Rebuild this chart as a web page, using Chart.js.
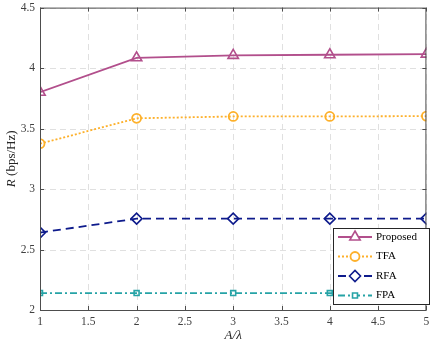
<!DOCTYPE html>
<html><head><meta charset="utf-8">
<script src="https://cdn.jsdelivr.net/npm/chart.js@4"></script>
<style>html,body{margin:0;padding:0;background:#fff}#wrap{width:434px;height:346px}</style>
</head><body><div id="wrap"><canvas id="c" width="434" height="346"></canvas></div>
<script>
const xValues = [1, 2, 3, 4, 5];
const proposed = [3.80, 4.085, 4.105, 4.11, 4.115];
const tfa = [3.375, 3.585, 3.60, 3.60, 3.603];
const rfa = [2.64, 2.755, 2.755, 2.755, 2.755];
const fpa = [2.14, 2.14, 2.14, 2.14, 2.14];
const seriesNames = ['Proposed', 'TFA', 'RFA', 'FPA'];
const xTitle = 'A/λ';

const serif = '"Liberation Serif", "Times New Roman", serif';
const pts = arr => arr.map((v, i) => ({x: xValues[i], y: v}));

const datasets = [
  {label: seriesNames[0], data: pts(proposed), borderColor: '#b24f8c', backgroundColor: 'rgba(0,0,0,0)', pointBorderColor: '#b24f8c', pointStyle: 'triangle', pointRadius: 6, borderWidth: 1.8, pointBorderWidth: 1.6, borderDash: []},
  {label: seriesNames[1], data: pts(tfa), borderColor: '#fdb02a', backgroundColor: 'rgba(0,0,0,0)', pointBorderColor: '#fdb02a', pointStyle: 'circle', pointRadius: 4.5, borderWidth: 1.8, pointBorderWidth: 1.8, borderDash: [2, 2]},
  {label: seriesNames[2], data: pts(rfa), borderColor: '#0e1b8c', backgroundColor: 'rgba(0,0,0,0)', pointBorderColor: '#0e1b8c', pointStyle: 'rectRot', pointRadius: 5.5, borderWidth: 1.8, pointBorderWidth: 1.6, borderDash: [8, 5]},
  {label: seriesNames[3], data: pts(fpa), borderColor: '#26a3a6', backgroundColor: 'rgba(0,0,0,0)', pointBorderColor: '#26a3a6', pointStyle: 'rect', pointRadius: 3.5, borderWidth: 1.8, pointBorderWidth: 1.6, borderDash: [7, 3, 2, 3]}
];

const gridPlugin = {
  id: 'dashgrid',
  beforeDatasetsDraw(chart) {
    const ctx = chart.ctx, a = chart.chartArea;
    const xs = chart.scales.x, ys = chart.scales.y;
    ctx.save();
    ctx.strokeStyle = '#e0e0e0'; ctx.lineWidth = 1; ctx.setLineDash([6, 4]);
    ctx.beginPath();
    xs.ticks.forEach(t => {
      const px = Math.round(xs.getPixelForValue(t.value)) + 0.5;
      ctx.moveTo(px, a.bottom); ctx.lineTo(px, a.top);
    });
    ys.ticks.forEach(t => {
      const py = Math.round(ys.getPixelForValue(t.value)) + 0.5;
      ctx.moveTo(a.left, py); ctx.lineTo(a.right, py);
    });
    ctx.stroke();
    ctx.restore();
  }
};

const decor = {
  id: 'decor',
  afterDraw(chart) {
    const ctx = chart.ctx, a = chart.chartArea;
    const xs = chart.scales.x, ys = chart.scales.y;
    ctx.save();
    ctx.strokeStyle = '#4d4d4d'; ctx.lineWidth = 1; ctx.setLineDash([]);
    ctx.strokeRect(a.left + 0.5, a.top + 0.5, a.right - a.left - 1, a.bottom - a.top);
    const tl = 4;
    ctx.beginPath();
    xs.ticks.forEach(t => {
      const px = Math.round(xs.getPixelForValue(t.value)) + 0.5;
      ctx.moveTo(px, a.bottom); ctx.lineTo(px, a.bottom - tl);
      ctx.moveTo(px, a.top); ctx.lineTo(px, a.top + tl);
    });
    ys.ticks.forEach(t => {
      const py = Math.round(ys.getPixelForValue(t.value)) + 0.5;
      ctx.moveTo(a.left, py); ctx.lineTo(a.left + tl, py);
      ctx.moveTo(a.right, py); ctx.lineTo(a.right - tl, py);
    });
    ctx.stroke();
    ctx.fillStyle = '#262626';
    ctx.font = 'italic 13px ' + serif;
    ctx.textAlign = 'center'; ctx.textBaseline = 'alphabetic';
    ctx.fillText(xTitle, (a.left + a.right) / 2, 339);
    ctx.save();
    ctx.translate(12, (a.top + a.bottom) / 2);
    ctx.rotate(-Math.PI / 2);
    const p1 = 'R', p2 = ' (bps/Hz)';
    ctx.font = 'italic 13px ' + serif; const w1 = ctx.measureText(p1).width;
    ctx.font = '13px ' + serif; const w2 = ctx.measureText(p2).width;
    let sx = -(w1 + w2) / 2;
    ctx.textAlign = 'left'; ctx.textBaseline = 'middle';
    ctx.font = 'italic 13px ' + serif; ctx.fillText(p1, sx, 0);
    ctx.font = '13px ' + serif; ctx.fillText(p2, sx + w1, 0);
    ctx.restore();
    const lx = 333, ly = 228, lw = 96, lh = 76;
    ctx.fillStyle = '#fff'; ctx.fillRect(lx, ly, lw, lh);
    ctx.strokeStyle = '#262626'; ctx.lineWidth = 1;
    ctx.strokeRect(lx + 0.5, ly + 0.5, lw, lh);
    chart.data.datasets.forEach((ds, i) => {
      const cy = ly + 9 + i * 19.5;
      ctx.strokeStyle = ds.borderColor; ctx.lineWidth = ds.borderWidth;
      ctx.setLineDash(ds.borderDash);
      ctx.beginPath(); ctx.moveTo(lx + 5, cy); ctx.lineTo(lx + 39, cy); ctx.stroke();
      ctx.setLineDash([]);
      ctx.lineWidth = ds.pointBorderWidth;
      ctx.fillStyle = '#ffffff';
      Chart.helpers.drawPoint(ctx, {pointStyle: ds.pointStyle, radius: ds.pointRadius, borderWidth: ds.pointBorderWidth}, lx + 22, cy);
      ctx.fillStyle = '#000'; ctx.font = '11px ' + serif;
      ctx.textAlign = 'left'; ctx.textBaseline = 'middle';
      ctx.fillText(ds.label, lx + 43, cy);
    });
    ctx.restore();
  }
};

const fmt = v => String(Math.round(v * 10) / 10);

new Chart(document.getElementById('c'), {
  type: 'line',
  data: {datasets},
  options: {
    responsive: false, animation: false, devicePixelRatio: 1,
    layout: {padding: {left: 0, right: 6, top: 3, bottom: 0}},
    plugins: {legend: {display: false}, tooltip: {enabled: false}},
    elements: {line: {tension: 0}, point: {backgroundColor: 'rgba(0,0,0,0)'}},
    scales: {
      x: {
        type: 'linear', min: 1, max: 5,
        ticks: {stepSize: 0.5, color: '#404040', font: {family: serif, size: 11.5}, padding: 5, maxRotation: 0, callback: fmt},
        grid: {display: false, drawTicks: false},
        border: {display: false},
        afterFit(s) { s.height = 36; s.paddingLeft = 0; s.paddingRight = 0; }
      },
      y: {
        min: 2, max: 4.5,
        ticks: {stepSize: 0.5, color: '#404040', font: {family: serif, size: 11.5}, padding: 5, callback: fmt},
        grid: {display: false, drawTicks: false},
        border: {display: false},
        afterFit(s) { s.width = 40; s.paddingTop = 0; s.paddingBottom = 0; }
      }
    }
  },
  plugins: [gridPlugin, decor]
});
</script>
</body></html>
